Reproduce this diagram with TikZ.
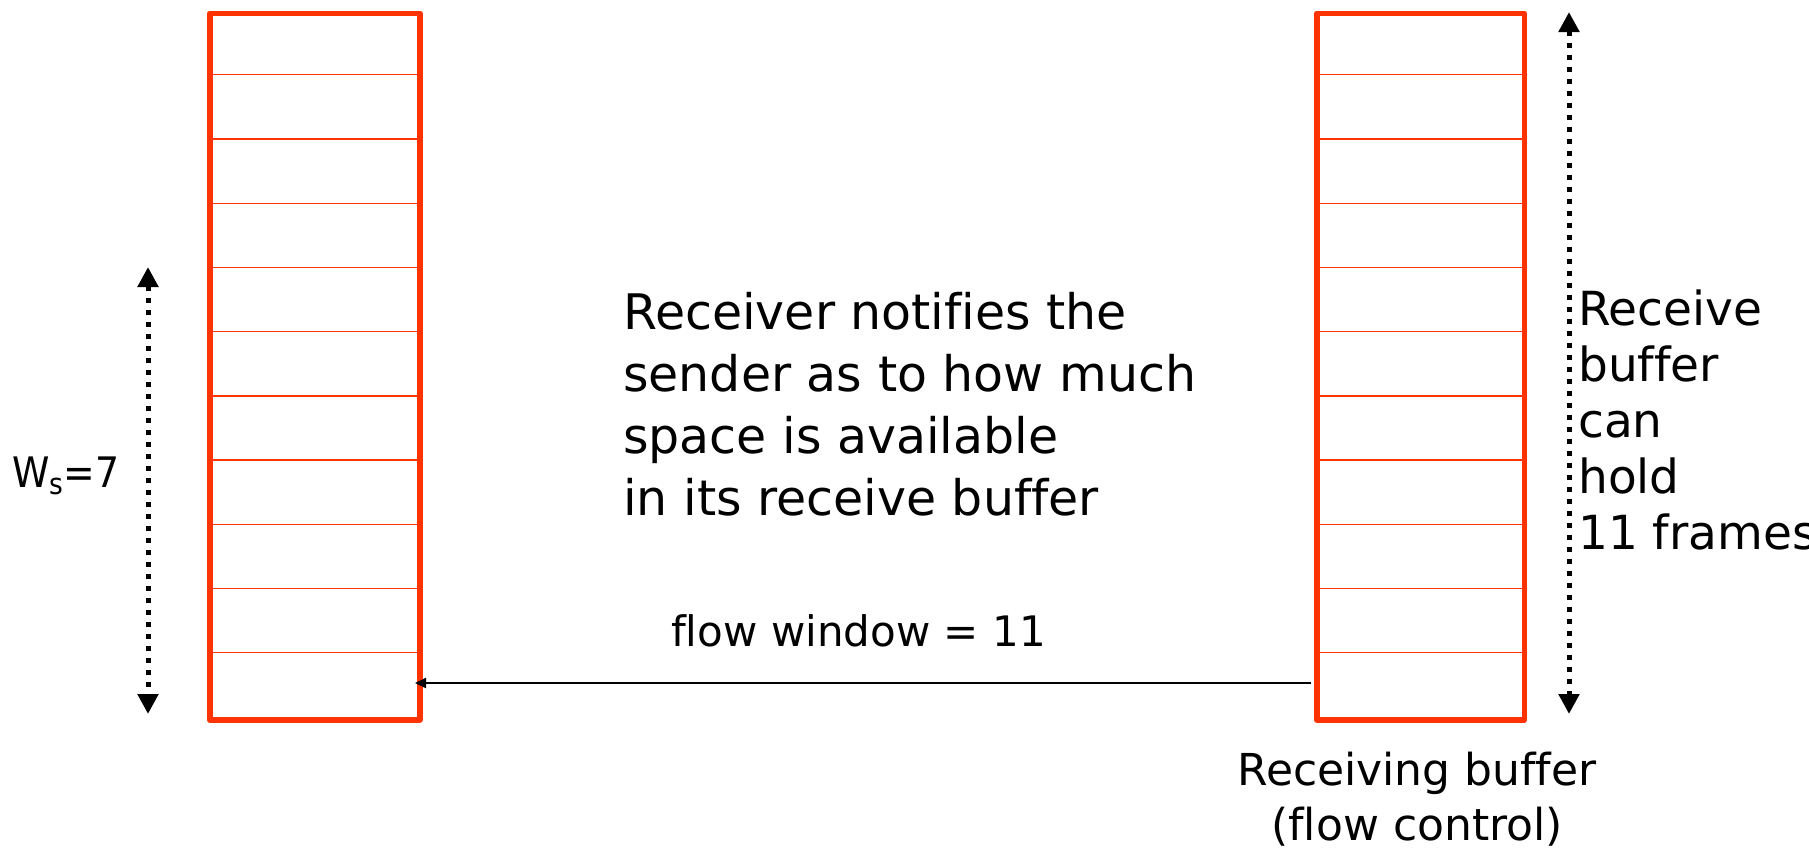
\documentclass[tikz,border=0pt]{standalone}
\usepackage{fontspec}
\setmainfont{DejaVu Sans}[Ligatures=CommonOff]
\newfontfamily\narrowfont{DejaVu Sans Condensed}[Ligatures=CommonOff]
\usetikzlibrary{arrows.meta}
\definecolor{bufred}{HTML}{FF3300}
\tikzset{
  buffer/.style={draw=bufred, line width=5.5pt, line join=round,
    minimum height=706.5pt, inner sep=0pt, anchor=north west},
  slot/.style={draw=bufred, line width=1.3pt},
  span/.style={line width=5pt, dash pattern=on 5pt off 7pt,
    {Triangle[length=20pt,width=20pt]}-{Triangle[length=20pt,width=20pt]}},
  notice/.style={line width=2pt, -{Triangle[length=11pt,width=10pt]}},
  label/.style={inner sep=0pt, align=left, anchor=base west}
}
\begin{document}
\begin{tikzpicture}[x=1pt, y=-1pt]
\useasboundingbox (0,0) rectangle (1809,855);
% sender and receiver buffers, 11 slots each
\node[buffer, minimum width=210pt] (snd) at (207,10.5) {};
\node[buffer, minimum width=207.5pt] (rcv) at (1314,10.5) {};
\foreach \k in {1,...,10}{
  \draw[slot] ([yshift={-64.23pt*\k}]snd.north west) -- ([yshift={-64.23pt*\k}]snd.north east);
  \draw[slot] ([yshift={-64.23pt*\k}]rcv.north west) -- ([yshift={-64.23pt*\k}]rcv.north east);
}
% window extents
\coordinate (wtop) at (148,267);
\coordinate (wbot) at (148,714);
\draw[span] (wtop) -- (wbot);
\coordinate (rtop) at (1569,12);
\coordinate (rbot) at (1569,714);
\draw[span] (rtop) -- (rbot);
% advertisement from receiver to sender
\coordinate (advfrom) at (1311,683);
\coordinate (advto) at (415,683);
\draw[notice] (advfrom) -- (advto);
% labels
\node[label, font=\narrowfont\fontsize{42}{50}\selectfont] (ws) at (12,487) {W\textsubscript{s}=7};
\node[label, font=\fontsize{49}{62}\selectfont] (note) at (623,515) {Receiver notifies the\\sender as to how much\\space is available\\in its receive buffer};
\node[label, font=\fontsize{42}{50}\selectfont] (fw) at (671,646) {flow window = 11};
\node[label, font=\fontsize{47}{56}\selectfont] (cap) at (1578,549) {Receive\\buffer\\can\\hold\\11 frames};
\node[label, anchor=base, align=center, font=\fontsize{44}{55}\selectfont] (rb) at (1417,840) {Receiving buffer\\(flow control)};
\end{tikzpicture}
\end{document}
